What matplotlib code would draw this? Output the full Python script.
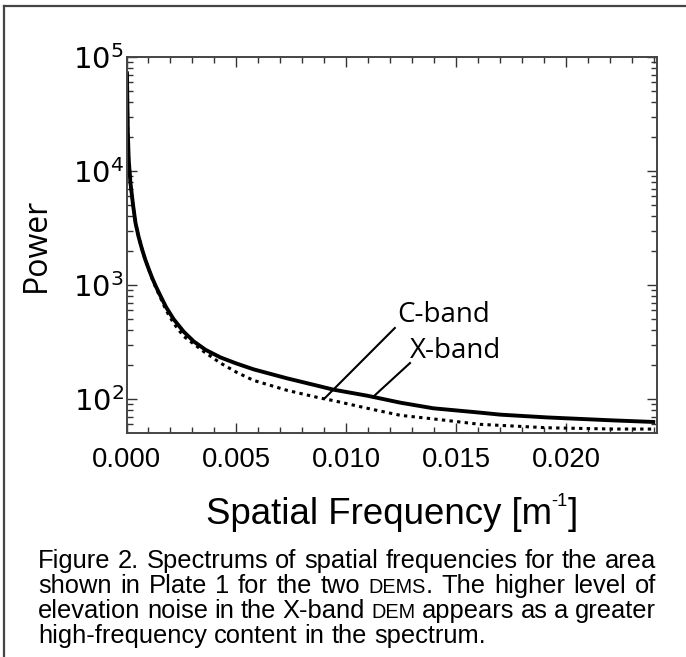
import matplotlib
matplotlib.use('Agg')
import matplotlib.pyplot as plt
from matplotlib.lines import Line2D
from matplotlib.ticker import MultipleLocator, LogLocator, NullFormatter, FixedLocator
from matplotlib import font_manager

# values
xband_freq = [0.00002, 0.00006, 0.0001, 0.00018, 0.0003, 0.00041, 0.00055, 0.0007, 0.00085,
              0.001, 0.00117, 0.00135, 0.00155, 0.0018, 0.00215, 0.0026, 0.00306, 0.0036,
              0.00427, 0.005, 0.00579, 0.0073, 0.00882, 0.0094, 0.01095, 0.01245, 0.01395,
              0.01609, 0.017, 0.01914, 0.02214, 0.02395]
xband_power = [72000, 22000, 12600, 7850, 5000, 3500, 2650, 2080, 1680,
               1400, 1150, 960, 800, 640, 500, 390, 320, 270,
               232, 205, 182, 152, 129, 121, 107, 93, 83,
               76, 73, 69, 65, 63]

cband_freq = [0.00002, 0.00006, 0.0001, 0.00018, 0.0003, 0.00041, 0.00055, 0.0007, 0.00085,
              0.001, 0.00117, 0.00135, 0.00155, 0.0018, 0.00215, 0.0026, 0.0035, 0.00427,
              0.005, 0.00577, 0.00732, 0.00882, 0.0094, 0.01095, 0.01245, 0.01395, 0.01609,
              0.01914, 0.02214, 0.02395]
cband_power = [72000, 22000, 12600, 7850, 5000, 3500, 2650, 2080, 1680,
               1390, 1130, 930, 770, 600, 460, 355, 262, 207,
               172, 146, 119, 102, 97, 83, 72, 67, 60,
               56, 54.6, 54.6]

xticks = [0.000, 0.005, 0.010, 0.015, 0.020]
xtick_labels = ['0.000', '0.005', '0.010', '0.015', '0.020']

caption = [
    [[('Figure', 0)], [('2.', 0)], [('Spectrums', 0)], [('of', 0)], [('spatial', 0)],
     [('frequencies', 0)], [('for', 0)], [('the', 0)], [('area', 0)]],
    [[('shown', 0)], [('in', 0)], [('Plate', 0)], [('1', 0)], [('for', 0)], [('the', 0)],
     [('two', 0)], [('DEMS', 1), ('.', 0)], [('The', 0)], [('higher', 0)], [('level', 0)], [('of', 0)]],
    [[('elevation', 0)], [('noise', 0)], [('in', 0)], [('the', 0)], [('X-band', 0)],
     [('DEM', 1)], [('appears', 0)], [('as', 0)], [('a', 0)], [('greater', 0)]],
    [[('high-frequency', 0)], [('content', 0)], [('in', 0)], [('the', 0)], [('spectrum.', 0)]],
]

names = {f.name for f in font_manager.fontManager.ttflist}
narrow = 'Liberation Sans Narrow' if 'Liberation Sans Narrow' in names else 'Liberation Sans'
plt.rcParams['mathtext.fontset'] = 'custom'
plt.rcParams['mathtext.rm'] = 'Open Sans'
plt.rcParams['mathtext.default'] = 'regular'

W, H = 686, 657
fig = plt.figure(figsize=(W / 100, H / 100), dpi=100)
renderer = fig.canvas.get_renderer()


def text_width(txt, sz, fam=narrow):
    t = fig.text(0, 0, txt, fontfamily=fam, fontsize=sz)
    w = t.get_window_extent(renderer).width
    t.remove()
    return w


def fit_size(txt, target, fam=narrow):
    return 20 * target / text_width(txt, 20, fam)


ax = fig.add_axes([126.5 / W, 1 - 433 / H, (657 - 126.5) / W, (433 - 57) / H])

ax.plot(cband_freq, cband_power, color='black', lw=2.2, linestyle=(0, (1.1, 1.4)))
ax.plot(xband_freq, xband_power, color='black', lw=2.8, solid_joinstyle='round')

ax.set_yscale('log')
ax.set_xlim(0, 0.02412)
ax.set_ylim(50.4, 1e5)

tick_size = fit_size('0.000', 69)
ax.xaxis.set_major_locator(FixedLocator(xticks))
ax.set_xticklabels(xtick_labels, fontfamily=narrow, fontsize=tick_size)
ax.xaxis.set_minor_locator(MultipleLocator(0.001))
ax.yaxis.set_major_locator(LogLocator(base=10))
ax.yaxis.set_minor_locator(LogLocator(base=10, subs=range(2, 10)))
ax.yaxis.set_minor_formatter(NullFormatter())
for lab in ax.get_yticklabels():
    lab.set_fontsize(21)

ax.tick_params(which='both', direction='in', top=True, right=True, width=1.0, color='#333333')
ax.tick_params(which='major', length=7)
ax.tick_params(which='minor', length=4)
ax.tick_params(axis='y', pad=2)
ax.tick_params(axis='x', pad=10)
for s in ax.spines.values():
    s.set_linewidth(1.4)
    s.set_color('#444444')

ax.set_ylabel('Power', fontfamily='Open Sans', fontsize=23, labelpad=14)

# x label drawn in pieces so the superscript stays small
lab_size = fit_size('Spatial Frequency [m]', 355)
sup_size = lab_size * 0.5
w_main = text_width('Spatial Frequency [m', lab_size)
w_sup = text_width('-1', sup_size)
w_end = text_width(']', lab_size)
x0 = (126.5 + 657) / 2 - (w_main + w_sup + w_end) / 2
yb = 1 - 524 / H
fig.text(x0 / W, yb, 'Spatial Frequency [m', fontfamily=narrow, fontsize=lab_size, va='baseline')
fig.text((x0 + w_main) / W, yb + 18 / H, '-1', fontfamily=narrow, fontsize=sup_size, va='baseline')
fig.text((x0 + w_main + w_sup) / W, yb, ']', fontfamily=narrow, fontsize=lab_size, va='baseline')

# annotation leaders
ax.plot([0.01220, 0.00902], [420, 102], color='black', lw=1.5)
ax.plot([0.01289, 0.01120], [207, 104], color='black', lw=1.5)
ax.text(0.0123, 546, 'C-band', fontfamily='Open Sans', fontsize=20, va='center', ha='left')
ax.text(0.01289, 264, 'X-band', fontfamily='Open Sans', fontsize=20, va='center', ha='left')

# frame lines around the figure
fig.lines.append(Line2D([4 / W, 1.0], [1 - 6 / H, 1 - 6 / H], transform=fig.transFigure,
                        color='#444444', lw=1.6))
fig.lines.append(Line2D([4 / W, 4 / W], [0, 1 - 6 / H], transform=fig.transFigure,
                        color='#444444', lw=1.6))

# justified caption
left_px, right_px = 38, 656
size = fit_size('high-frequency content in the spectrum.', 447)
baselines = [568, 593, 618, 643]
space_w = text_width('a a', size) - text_width('aa', size)
for i, words in enumerate(caption):
    widths = []
    for word in words:
        widths.append(sum(text_width(p, size * (0.78 if sc else 1)) for p, sc in word))
    if i < len(caption) - 1:
        gap = (right_px - left_px - sum(widths)) / (len(words) - 1)
    else:
        gap = space_w
    x = left_px
    y = 1 - baselines[i] / H
    for word, w in zip(words, widths):
        xx = x
        for p, sc in word:
            sz = size * (0.78 if sc else 1)
            fig.text(xx / W, y, p, fontfamily=narrow, fontsize=sz, va='baseline', ha='left')
            xx += text_width(p, sz)
        x += w + gap

fig.savefig('out.png', dpi=100)
